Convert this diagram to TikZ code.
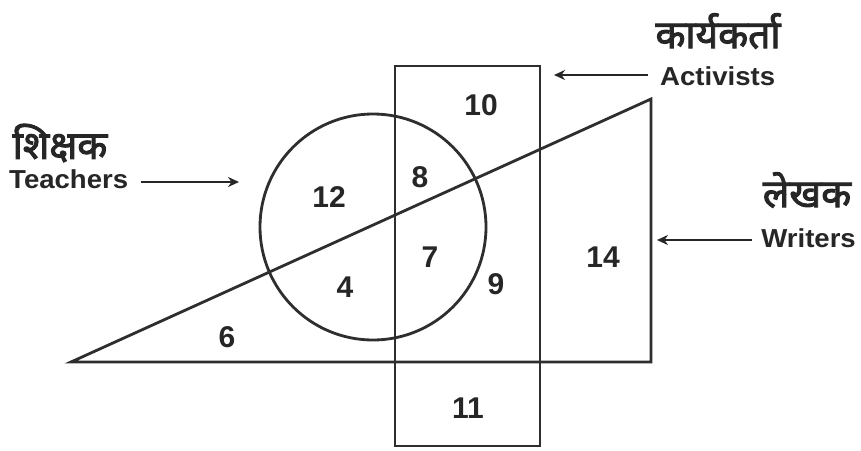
\documentclass[tikz,border=0pt]{standalone}
\usepackage{fontspec}
\setmainfont{Liberation Sans}[FakeStretch=1.06]
\newfontfamily\devfont[Script=Devanagari,FakeBold=2.5]{Noto Sans}
\newfontfamily\numfont{Liberation Sans}
\usetikzlibrary{arrows.meta}
\begin{document}
\begin{tikzpicture}[x=1pt,y=-1pt,
  shape line/.style={line width=2.8pt,draw=black!82},
  arr/.style={line width=2.2pt,draw=black!85,-{Stealth[length=11pt,width=10pt]}},
  lbl/.style={inner sep=0pt,font=\fontsize{26}{30}\selectfont\bfseries,text=black!85},
  dev/.style={inner sep=0pt,font=\fontsize{39}{44}\selectfont\devfont,text=black!85},
  num/.style={inner sep=0pt,font=\fontsize{30}{34}\selectfont\numfont\bfseries,text=black!85}]
\useasboundingbox[fill=white] (0,0) rectangle (861,450);
% sets
\draw[shape line] (395,66) rectangle (540,446);
\draw[shape line] (373,227) circle (113);
\draw[shape line,line join=miter] (71,362) -- (651,99) -- (651,362) -- cycle;
% numbers
\node[num] (n10) at (481,105) {10};
\node[num] (n12) at (329,197) {12};
\node[num] (n8) at (420,177) {8};
\node[num] (n7) at (430,257) {7};
\node[num] (n4) at (345,287) {4};
\node[num] (n9) at (496,284) {9};
\node[num] (n6) at (227,337) {6};
\node[num] (n14) at (603,257) {14};
\node[num] (n11) at (468,408) {11};
% labels
\node[dev] (tdev) at (60,143) {शिक्षक};
\node[lbl,anchor=base west] (teach) at (9,188) {Teachers};
\coordinate (ta) at (141,182);
\coordinate (tb) at (239,182);
\draw[arr] (ta) -- (tb);
\node[dev] (adev) at (718,31) {कार्यकर्ता};
\node[lbl,anchor=base west] (act) at (660,85) {Activists};
\coordinate (aa) at (648,75);
\coordinate (ab) at (554,75);
\draw[arr] (aa) -- (ab);
\node[dev] (wdev) at (807,190) {लेखक};
\node[lbl,anchor=base east] (writ) at (856,247) {Writers};
\coordinate (wa) at (752,240);
\coordinate (wb) at (657,240);
\draw[arr] (wa) -- (wb);
\end{tikzpicture}
\end{document}
